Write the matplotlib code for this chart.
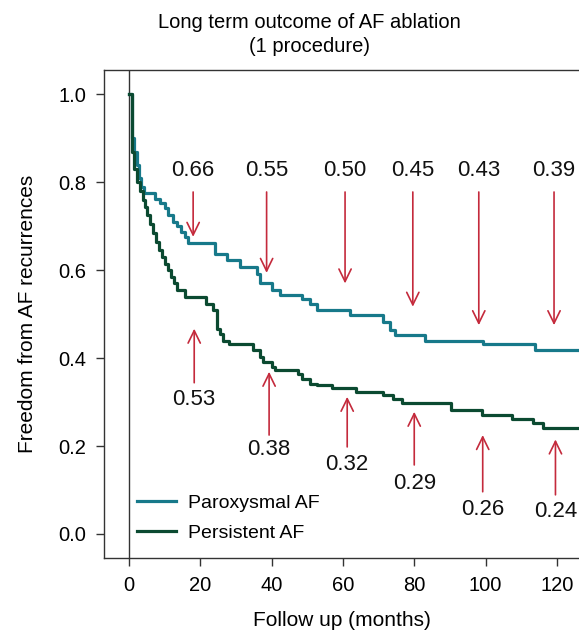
import matplotlib
matplotlib.use("Agg")
import matplotlib.pyplot as plt

plt.rcParams['font.family'] = ['Liberation Sans', 'DejaVu Sans']

# Kaplan-Meier style step data (months, freedom from AF recurrence)
parox_t = [0, 0.8, 1.5, 2.2, 2.8, 3.5, 4.3, 7.3, 8.7, 10.1, 11.0, 12.4, 13.5, 14.6, 15.6, 16.6,
           24.1, 27.4, 31.1, 35.8, 36.7, 40.0, 42.3, 48.4, 50.7, 52.6, 62.0, 71.3, 73.2, 74.6,
           83.0, 99.3, 113.8, 127]
parox_s = [1.0, 0.90, 0.87, 0.84, 0.81, 0.79, 0.775, 0.763, 0.752, 0.741, 0.725, 0.71, 0.70,
           0.687, 0.676, 0.663, 0.638, 0.623, 0.608, 0.592, 0.570, 0.555, 0.543, 0.535, 0.524,
           0.509, 0.498, 0.483, 0.464, 0.452, 0.439, 0.433, 0.418, 0.418]

pers_t = [0, 0.76, 1.5, 2.2, 3.1, 3.8, 4.5, 5.2, 5.9, 6.7, 7.5, 8.3, 9.2, 10.1, 10.9, 11.7, 12.5,
          13.5, 15.6, 21.7, 23.7, 24.6, 25.5, 26.4, 28.0, 34.8, 36.7, 37.6, 40.0, 40.9, 47.5,
          48.6, 50.7, 52.6, 56.8, 63.8, 71.3, 74.1, 76.5, 90.4, 98.9, 107.3, 113.3, 116.2, 127]
pers_s = [1.0, 0.87, 0.83, 0.80, 0.78, 0.76, 0.745, 0.725, 0.706, 0.685, 0.665, 0.645, 0.63,
          0.615, 0.60, 0.585, 0.57, 0.555, 0.54, 0.524, 0.509, 0.467, 0.456, 0.440, 0.432,
          0.418, 0.403, 0.392, 0.380, 0.374, 0.365, 0.352, 0.342, 0.338, 0.331, 0.323, 0.316,
          0.307, 0.297, 0.282, 0.270, 0.261, 0.252, 0.240, 0.240]

# Annotations: paroxysmal (top, arrows pointing down)
top_x = [18.0, 38.6, 60.6, 79.6, 98.1, 119.2]
top_tip = [0.676, 0.594, 0.570, 0.517, 0.475, 0.475]
top_tail = [0.778, 0.778, 0.778, 0.778, 0.778, 0.778]
top_lbl = ["0.66", "0.55", "0.50", "0.45", "0.43", "0.39"]
top_lbl_y = 0.827

# Annotations: persistent (bottom, arrows pointing up)
bot_x = [18.3, 39.3, 61.2, 80.0, 99.2, 119.6]
bot_tip = [0.467, 0.369, 0.312, 0.278, 0.225, 0.215]
bot_tail = [0.344, 0.225, 0.198, 0.157, 0.096, 0.089]
bot_lbl = ["0.53", "0.38", "0.32", "0.29", "0.26", "0.24"]
bot_lbl_y = [0.306, 0.193, 0.157, 0.115, 0.055, 0.051]

TEAL = "#17798a"
DGREEN = "#0b4a31"
RED = "#c42a3c"
AXC = "#333333"

fig = plt.figure(figsize=(5.79, 6.33), dpi=100)
ax = fig.add_axes([0.1796, 0.119, 0.8204, 0.770])

ax.step(parox_t, parox_s, where='post', color=TEAL, lw=2.3, label='Paroxysmal AF')
ax.step(pers_t, pers_s, where='post', color=DGREEN, lw=2.3, label='Persistent AF')

ax.axvline(0, color=AXC, lw=1.0, zorder=1)

arrow_style = dict(arrowstyle='->,head_length=0.45,head_width=0.22', color=RED, lw=1.2,
                   shrinkA=0, shrinkB=0, mutation_scale=20)
for x, tip, tail, lab in zip(top_x, top_tip, top_tail, top_lbl):
    ax.annotate('', xy=(x, tip), xytext=(x, tail), arrowprops=arrow_style)
    ax.text(x, top_lbl_y, lab, ha='center', va='center', fontsize=16, color='#111111')
for x, tip, tail, lab, ly in zip(bot_x, bot_tip, bot_tail, bot_lbl, bot_lbl_y):
    ax.annotate('', xy=(x, tip), xytext=(x, tail), arrowprops=arrow_style)
    ax.text(x, ly, lab, ha='center', va='center', fontsize=16, color='#111111')

ax.set_xlim(-7.0, 126.2)
ax.set_ylim(-0.054, 1.055)
ax.set_xticks([0, 20, 40, 60, 80, 100, 120])
ax.set_yticks([0.0, 0.2, 0.4, 0.6, 0.8, 1.0])
ax.set_yticklabels(["0.0", "0.2", "0.4", "0.6", "0.8", "1.0"])
ax.tick_params(axis='both', direction='out', length=6, width=1.0, color=AXC,
               labelsize=14.5, pad=7)
ax.spines['right'].set_visible(False)
for s in ['left', 'bottom', 'top']:
    ax.spines[s].set_color(AXC)
    ax.spines[s].set_linewidth(1.0)

ax.set_xlabel('Follow up (months)', fontsize=15, labelpad=12)
ax.set_ylabel('Freedom from AF recurrences', fontsize=15, labelpad=15)

fig.text(0.535, 0.945, 'Long term outcome of AF ablation\n(1 procedure)', ha='center',
         va='center', fontsize=14.5, linespacing=1.35)

ax.legend(loc='lower left', bbox_to_anchor=(0.07, 0.032), frameon=False, fontsize=14,
          handlelength=2.0, handletextpad=0.6, labelspacing=0.65, borderpad=0, borderaxespad=0)

fig.savefig('out.png', dpi=100)
